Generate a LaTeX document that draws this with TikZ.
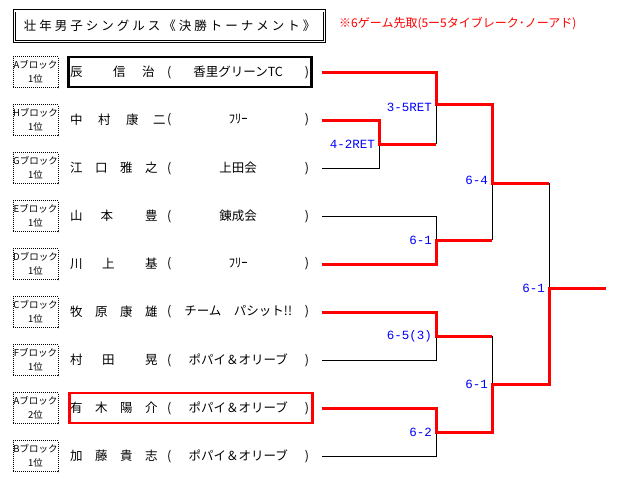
\documentclass[tikz,border=0pt]{standalone}
\usepackage{fontspec}
\setmainfont{Noto Sans CJK JP}
\newfontfamily\mono{Liberation Mono}
\newfontfamily\wide[LetterSpace=24]{Noto Sans CJK JP}
\newcommand\clubb[1]{\makebox[142pt]{(\hfill#1\hfill)}}

\begin{document}
\begin{tikzpicture}[x=1pt, y=-1pt,
  blk/.style={draw, dash pattern=on 1pt off 1pt, line width=0.8pt, minimum width=45pt, minimum height=31pt, inner sep=0pt, align=center, font=\fontsize{9.5}{14}\selectfont},
  nume/.style={anchor=west, inner sep=0pt, font=\fontsize{12.5}{15}\selectfont},
  club/.style={anchor=west, inner sep=0pt, font=\fontsize{12.5}{15}\selectfont},
  scor/.style={left, inner sep=4pt, text=blue, font=\mono\fontsize{12.5}{14}\selectfont},
  win/.style={red, line width=3pt},
  los/.style={line width=0.8pt}]
  \useasboundingbox (0,0) rectangle (624,479);

  % titlul
  \node[draw, double, double distance=1.5pt, line width=0.8pt, minimum width=310pt, minimum height=30.5pt, inner sep=0pt, font=\wide\fontsize{12.5}{15}\selectfont] (T) at (169.5,26) {壮年男子シングルス《決勝トーナメント》};
  \node[anchor=west, inner sep=0pt, text=red, font=\fontsize{12}{14}\selectfont] (N) at (339,24) {※6ゲーム先取(5ー5タイブレーク･ノーアド)};

  % jucătorii
  \node[blk] (bA) at (35.5,72) {Aブロック\\1位};
  \node[nume] (nA) at (70,72) {辰\hspace{30.5pt}信\hspace{16.5pt}治};
  \node[club] (cA) at (167,72) {\clubb{香里グリーンTC}};
  \node[blk] (bH) at (35.5,120) {Hブロック\\1位};
  \node[nume] (nH) at (70,120) {中\hspace{15.5pt}村\hspace{15.5pt}康\hspace{14.5pt}二};
  \node[club] (cH) at (167,120) {\clubb{ﾌﾘｰ}};
  \node[blk] (bG) at (35.5,168) {Gブロック\\1位};
  \node[nume] (nG) at (70,168) {江　口　雅　之};
  \node[club] (cG) at (167,168) {\clubb{上田会}};
  \node[blk] (bE) at (35.5,216) {Eブロック\\1位};
  \node[nume] (nE) at (70,216) {山\hspace{18pt}本\hspace{32pt}豊};
  \node[club] (cE) at (167,216) {\clubb{錬成会}};
  \node[blk] (bD) at (35.5,264) {Dブロック\\1位};
  \node[nume] (nD) at (70,264) {川\hspace{19.5pt}上\hspace{30.5pt}基};
  \node[club] (cD) at (167,264) {\clubb{ﾌﾘｰ}};
  \node[blk] (bC) at (35.5,312) {Cブロック\\1位};
  \node[nume] (nC) at (70,312) {牧　原　康　雄};
  \node[club] (cC) at (167,312) {\clubb{チーム　パシット!!}};
  \node[blk] (bF) at (35.5,360) {Fブロック\\1位};
  \node[nume] (nF) at (70,360) {村\hspace{19.5pt}田\hspace{30.5pt}晃};
  \node[club] (cF) at (167,360) {\clubb{ポパイ＆オリーブ}};
  \node[blk] (bA2) at (35.5,408) {Aブロック\\2位};
  \node[nume] (nA2) at (70,408) {有　木　陽　介};
  \node[club] (cA2) at (167,408) {\clubb{ポパイ＆オリーブ}};
  \node[blk] (bB) at (35.5,456) {Bブロック\\1位};
  \node[nume] (nB) at (70,456) {加　藤　貴　志};
  \node[club] (cB) at (167,456) {\clubb{ポパイ＆オリーブ}};

  % chenarele
  \draw[line width=2.6pt] (68.5,57) rectangle (311.5,87);
  \draw[red, line width=2.7pt] (69.5,393) rectangle (312.5,423);

  % tabloul
  \coordinate (lA) at (322,72);
  \coordinate (lH) at (322,120);
  \coordinate (lG) at (322,168);
  \coordinate (lE) at (322,216);
  \coordinate (lD) at (322,264);
  \coordinate (lC) at (322,312);
  \coordinate (lF) at (322,360);
  \coordinate (lA2) at (322,408);
  \coordinate (lB) at (322,456);
  \coordinate (mHG) at (379,144);
  \coordinate (mA) at (436,104);
  \coordinate (mED) at (436,240);
  \coordinate (mCF) at (436,336);
  \coordinate (mAB) at (436,432);
  \coordinate (s1) at (492,183);
  \coordinate (s2) at (492,384);
  \coordinate (fin) at (549,288);
  \coordinate (cup) at (606,288);

  % pierzătorii
  \draw[los] (lG) -| (mHG);
  \draw[los] (mHG -| mA) -- (mA);
  \draw[los] (lE) -| (mED);
  \draw[los] (mED -| s1) -- (s1);
  \draw[los] (lF) -| (mCF);
  \draw[los] (lB) -| (mAB);
  \draw[los] (mCF -| s2) -- (s2);
  \draw[los] (s1 -| fin) -- (fin);

  % câștigătorii
  \draw[win] (lH) -| (mHG) -- (mHG -| mA);
  \draw[win] (lA) -| (mA) -| (s1) -- (s1 -| fin);
  \draw[win] (lD) -| (mED) -- (mED -| s1);
  \draw[win] (lC) -| (mCF) -- (mCF -| s2);
  \draw[win] (lA2) -| (mAB) -| (s2) -| (fin) -- (cup);

  % scorurile
  \node[scor] (rHG) at (mHG) {4-2RET};
  \node[scor, yshift=-3pt] (rA) at (mA) {3-5RET};
  \node[scor] (rED) at (mED) {6-1};
  \node[scor, yshift=3pt] (r1) at (s1) {6-4};
  \node[scor] (rCF) at (mCF) {6-5(3)};
  \node[scor] (rAB) at (mAB) {6-2};
  \node[scor] (r2) at (s2) {6-1};
  \node[scor] (rF) at (fin) {6-1};
\end{tikzpicture}
\end{document}
